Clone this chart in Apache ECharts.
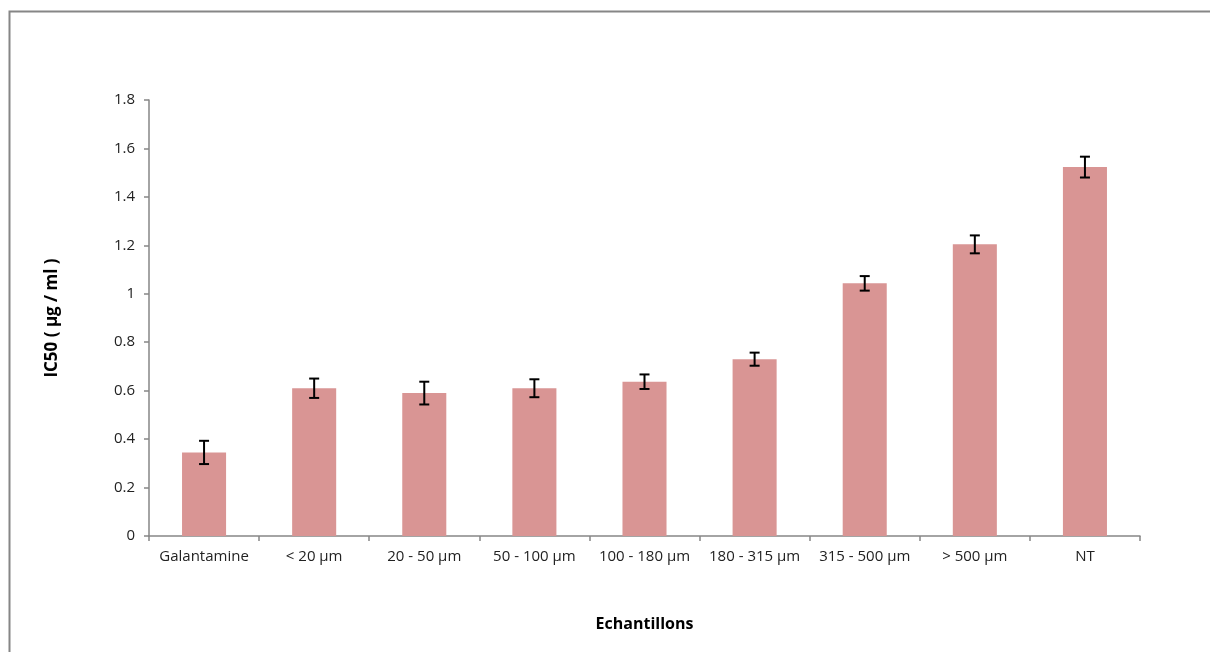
<!DOCTYPE html>
<html>
<head>
<meta charset="utf-8">
<script src="https://cdn.jsdelivr.net/npm/echarts@6/dist/echarts.min.js"></script>
<style>
html,body{margin:0;padding:0;background:#fff;}
#chart{width:1210px;height:652px;}
</style>
</head>
<body>
<div id="chart"></div>
<script>
const categories = ['Galantamine', '< 20 µm', '20 - 50 µm', '50 - 100 µm', '100 - 180 µm', '180 - 315 µm', '315 - 500 µm', '> 500 µm', 'NT'];
const ic50Values = [0.345, 0.61, 0.59, 0.61, 0.637, 0.73, 1.043, 1.204, 1.523];
const ic50Errors = [0.048, 0.04, 0.047, 0.037, 0.03, 0.027, 0.03, 0.037, 0.043];
const yTicks = { min: 0, max: 1.8, interval: 0.2 };

const errorData = categories.map((c, i) => [i, ic50Values[i] - ic50Errors[i], ic50Values[i] + ic50Errors[i]]);

const chart = echarts.init(document.getElementById('chart'));
const font = '"Open Sans", "Liberation Sans", sans-serif';
chart.setOption({
  animation: false,
  backgroundColor: '#fff',
  graphic: [{
    type: 'rect',
    shape: { x: 9.5, y: 11.5, width: 1220, height: 660 },
    style: { fill: 'none', stroke: '#868686', lineWidth: 2 },
    silent: true
  }],
  grid: { left: 149, right: 70, top: 100, bottom: 116 },
  xAxis: {
    type: 'category',
    data: categories,
    name: 'Echantillons',
    nameLocation: 'middle',
    nameGap: 80,
    nameTextStyle: { fontFamily: font, fontWeight: 'bold', fontSize: 16, color: '#000' },
    axisLine: { lineStyle: { color: '#868686', width: 1.5 } },
    axisTick: { show: true, length: 5, lineStyle: { color: '#868686', width: 1.5 } },
    axisLabel: { fontFamily: font, fontSize: 15, color: '#222', margin: 13, interval: 0, hideOverlap: false }
  },
  yAxis: {
    type: 'value',
    min: yTicks.min, max: yTicks.max, interval: yTicks.interval,
    name: 'IC50 ( µg / ml )',
    nameLocation: 'middle',
    nameGap: 88,
    nameRotate: 90,
    nameTextStyle: { fontFamily: font, fontWeight: 'bold', fontSize: 17, color: '#000' },
    axisLine: { show: true, lineStyle: { color: '#868686', width: 1.5 } },
    axisTick: { show: true, length: 5, lineStyle: { color: '#868686', width: 1.5 } },
    splitLine: { show: false },
    axisLabel: { fontFamily: font, fontSize: 15, color: '#222', margin: 14,
      formatter: v => String(Math.round(v * 10) / 10) }
  },
  series: [{
    type: 'bar',
    data: ic50Values,
    barWidth: '40%',
    itemStyle: { color: '#d99594' }
  }, {
    type: 'custom',
    data: errorData,
    z: 10,
    renderItem: function (params, api) {
      const x = api.value(0);
      const lo = api.coord([x, api.value(1)]);
      const hi = api.coord([x, api.value(2)]);
      const hw = 5;
      const st = { stroke: '#000', lineWidth: 2 };
      return {
        type: 'group',
        children: [
          { type: 'line', shape: { x1: hi[0], y1: hi[1], x2: lo[0], y2: lo[1] }, style: st },
          { type: 'line', shape: { x1: hi[0] - hw, y1: hi[1], x2: hi[0] + hw, y2: hi[1] }, style: st },
          { type: 'line', shape: { x1: lo[0] - hw, y1: lo[1], x2: lo[0] + hw, y2: lo[1] }, style: st }
        ]
      };
    }
  }]
});
</script>
</body>
</html>
